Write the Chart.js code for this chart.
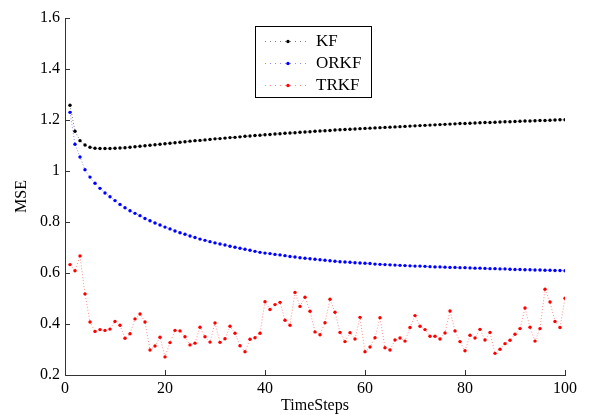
<!DOCTYPE html>
<html>
<head>
<meta charset="utf-8">
<script src="https://cdn.jsdelivr.net/npm/chart.js@4.4.1/dist/chart.umd.min.js"></script>
<style>
html,body{margin:0;padding:0;background:#fff;}
#wrap{width:591px;height:415px;position:relative;}
</style>
</head>
<body>
<div id="wrap"><canvas id="c" width="591" height="415"></canvas></div>
<script>
const timeSteps = Array.from({length: 100}, (_, i) => i + 1);
const seriesNames = ['KF', 'ORKF', 'TRKF'];
const kfValues = [
1.258,1.156,1.119,1.102,1.093,1.089,1.088,1.088,1.088,1.089,
1.090,1.091,1.093,1.095,1.097,1.099,1.101,1.103,1.105,1.107,
1.109,1.111,1.113,1.115,1.117,1.119,1.120,1.122,1.124,1.126,
1.127,1.129,1.131,1.132,1.134,1.136,1.137,1.139,1.140,1.142,
1.143,1.145,1.146,1.148,1.149,1.150,1.152,1.153,1.154,1.156,
1.157,1.158,1.159,1.161,1.162,1.163,1.164,1.165,1.166,1.167,
1.168,1.169,1.170,1.171,1.172,1.173,1.174,1.175,1.176,1.177,
1.178,1.179,1.180,1.181,1.182,1.183,1.184,1.185,1.186,1.186,
1.187,1.188,1.189,1.190,1.190,1.191,1.192,1.193,1.193,1.194,
1.195,1.196,1.196,1.197,1.198,1.198,1.199,1.200,1.201,1.201];
const orkfValues = [
1.230,1.105,1.055,1.005,0.976,0.952,0.932,0.914,0.899,0.884,
0.869,0.856,0.844,0.834,0.825,0.814,0.805,0.796,0.788,0.780,
0.773,0.765,0.758,0.752,0.745,0.739,0.733,0.728,0.723,0.718,
0.714,0.710,0.705,0.701,0.697,0.693,0.689,0.685,0.681,0.678,
0.676,0.673,0.671,0.668,0.665,0.663,0.660,0.658,0.656,0.654,
0.652,0.650,0.648,0.646,0.644,0.643,0.642,0.640,0.639,0.638,
0.637,0.635,0.634,0.633,0.632,0.631,0.630,0.629,0.628,0.627,
0.627,0.626,0.625,0.624,0.624,0.623,0.622,0.622,0.621,0.621,
0.620,0.619,0.619,0.618,0.617,0.617,0.616,0.616,0.615,0.614,
0.614,0.613,0.613,0.612,0.612,0.611,0.611,0.610,0.610,0.609];
const trkfValues = [
0.633,0.609,0.667,0.518,0.408,0.371,0.378,0.375,0.380,0.410,
0.395,0.344,0.362,0.420,0.439,0.408,0.298,0.314,0.348,0.271,
0.327,0.375,0.373,0.350,0.318,0.325,0.387,0.350,0.329,0.404,
0.328,0.342,0.391,0.364,0.315,0.291,0.340,0.346,0.364,0.487,
0.457,0.476,0.485,0.415,0.395,0.524,0.469,0.505,0.450,0.369,
0.358,0.405,0.497,0.446,0.367,0.331,0.366,0.341,0.426,0.291,
0.310,0.346,0.425,0.307,0.298,0.337,0.345,0.333,0.386,0.433,
0.391,0.378,0.352,0.352,0.341,0.365,0.451,0.373,0.331,0.295,
0.356,0.345,0.379,0.337,0.367,0.285,0.301,0.323,0.336,0.360,
0.382,0.463,0.387,0.333,0.382,0.536,0.486,0.410,0.386,0.501];
const xTickValues = [0, 20, 40, 60, 80, 100];
const yTickValues = [0.2, 0.4, 0.6, 0.8, 1, 1.2, 1.4, 1.6];
const yTickLabels = ['0.2', '0.4', '0.6', '0.8', '1', '1.2', '1.4', '1.6'];
const xAxisTitle = 'TimeSteps';
const yAxisTitle = 'MSE';

const markerColors = ['#000000', '#0000ff', '#ff0000'];
const lineColors = ['rgba(0,0,0,0.5)', 'rgba(0,0,255,0.45)', 'rgba(255,0,0,0.45)'];
const allValues = [kfValues, orkfValues, trkfValues];
const SERIF = '"Liberation Serif", "DejaVu Serif", serif';

const datasets = seriesNames.map((name, k) => ({
  label: name,
  data: timeSteps.map((t, i) => ({x: t, y: allValues[k][i]})),
  borderColor: lineColors[k],
  borderWidth: 1,
  borderDash: [1, 2],
  pointRadius: 1.7,
  pointBorderWidth: 0,
  pointBackgroundColor: markerColors[k],
  pointBorderColor: markerColors[k],
  tension: 0,
  fill: false
}));

const inwardTicks = {
  id: 'inwardTicks',
  afterDraw(chart) {
    const ctx = chart.ctx;
    const xs = chart.scales.x, ys = chart.scales.y;
    const a = chart.chartArea;
    ctx.save();
    ctx.strokeStyle = '#333';
    ctx.lineWidth = 1;
    ctx.beginPath();
    xTickValues.forEach(v => {
      const px = Math.round(xs.getPixelForValue(v)) + 0.5;
      ctx.moveTo(px, a.bottom);
      ctx.lineTo(px, a.bottom - 5);
    });
    yTickValues.forEach(v => {
      const py = Math.round(ys.getPixelForValue(v)) + 0.5;
      ctx.moveTo(a.left, py);
      ctx.lineTo(a.left + 5, py);
    });
    ctx.stroke();
    ctx.restore();
  }
};

const boxLegend = {
  id: 'boxLegend',
  afterDraw(chart) {
    const ctx = chart.ctx;
    const bx = 255.5, by = 26.5, bw = 116, bh = 71;
    ctx.save();
    ctx.fillStyle = '#fff';
    ctx.fillRect(bx, by, bw, bh);
    ctx.strokeStyle = '#000';
    ctx.lineWidth = 1;
    ctx.strokeRect(bx, by, bw, bh);
    const rows = [41, 63, 85];
    chart.data.datasets.forEach((ds, k) => {
      const y = rows[k];
      ctx.strokeStyle = ds.borderColor;
      ctx.setLineDash([1, 4]);
      ctx.beginPath();
      ctx.moveTo(265, y + 0.5);
      ctx.lineTo(308, y + 0.5);
      ctx.stroke();
      ctx.setLineDash([]);
      ctx.fillStyle = ds.pointBackgroundColor;
      ctx.beginPath();
      ctx.arc(288, y + 0.5, 1.7, 0, Math.PI * 2);
      ctx.fill();
      ctx.fillStyle = '#000';
      ctx.font = '17px ' + SERIF;
      ctx.textBaseline = 'middle';
      ctx.textAlign = 'left';
      ctx.fillText(ds.label, 316, y + 1);
    });
    ctx.restore();
  }
};

new Chart(document.getElementById('c'), {
  type: 'line',
  data: {datasets},
  plugins: [inwardTicks, boxLegend],
  options: {
    responsive: false,
    animation: false,
    events: [],
    layout: {padding: {left: 0, right: 26, top: 18, bottom: 0}},
    plugins: {legend: {display: false}, tooltip: {enabled: false}, title: {display: false}},
    scales: {
      x: {
        type: 'linear', min: 0, max: 100,
        afterFit: s => { s.height = 40; },
        afterBuildTicks: s => { s.ticks = xTickValues.map(v => ({value: v})); },
        grid: {display: false, drawTicks: false},
        border: {display: true, color: '#333', width: 1},
        ticks: {padding: 4, color: '#000', font: {family: SERIF, size: 16}, maxRotation: 0,
          callback: v => String(v)},
        title: {display: true, text: xAxisTitle, color: '#000', font: {family: SERIF, size: 16},
          padding: {top: 0, bottom: 0}}
      },
      y: {
        type: 'linear', min: 0.2, max: 1.6,
        afterFit: s => { s.width = 65; },
        afterBuildTicks: s => { s.ticks = yTickValues.map(v => ({value: v})); },
        grid: {display: false, drawTicks: false},
        border: {display: true, color: '#333', width: 1},
        ticks: {padding: 5, color: '#000', font: {family: SERIF, size: 16},
          callback: v => yTickLabels[yTickValues.findIndex(t => Math.abs(t - v) < 1e-9)]},
        title: {display: true, text: yAxisTitle, color: '#000', font: {family: SERIF, size: 16},
          padding: {top: 12, bottom: 0}}
      }
    }
  }
});
</script>
</body>
</html>
